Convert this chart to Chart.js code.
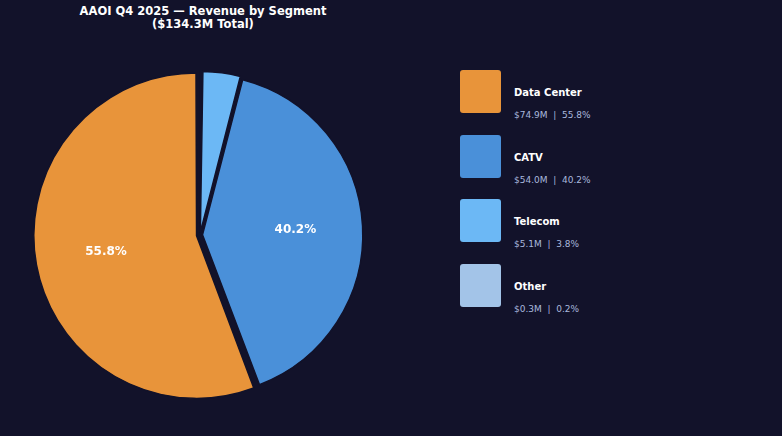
<!DOCTYPE html>
<html><head><meta charset="utf-8">
<script src="https://cdn.jsdelivr.net/npm/chart.js@4"></script>
<style>
html,body{margin:0;padding:0;background:#12122a;width:782px;height:436px;overflow:hidden;font-family:"DejaVu Sans",sans-serif;}
#title{position:absolute;left:0;width:406px;top:5px;text-align:center;color:#fff;font-weight:bold;font-size:11.5px;line-height:13px;}
#wrap{position:absolute;left:0;top:40px;width:400px;height:390px;}
#legend{position:absolute;left:460px;top:70px;}
.item{position:relative;height:64.5px;}
.box{position:absolute;left:0;top:0;width:41px;height:43px;border-radius:3px;}
.name{position:absolute;left:54px;top:17px;color:#fff;font-weight:bold;font-size:10px;white-space:nowrap;}
.sub{position:absolute;left:54px;top:40px;color:#a9b8dd;font-size:9px;white-space:pre;}
</style></head><body>
<div id="title">AAOI Q4 2025 — Revenue by Segment<br>($134.3M Total)</div>
<div id="wrap"><canvas id="c"></canvas></div>
<div id="legend"></div>
<script>
const segments=["Data Center","CATV","Telecom","Other"];
const revenue=[74.9,54.0,5.1,0.3];
const shares=[55.8,40.2,3.8,0.2];
const colors=["#E8943A","#4A90D9","#6CB8F5","#A3C4E8"];
const lg=document.getElementById('legend');
segments.forEach((s,i)=>{
  lg.innerHTML+=`<div class="item"><div class="box" style="background:${colors[i]}"></div><div class="name">${s}</div><div class="sub">$${revenue[i].toFixed(1)}M  |  ${shares[i].toFixed(1)}%</div></div>`;
});
const order=[3,2,1,0];
const labelPlugin={id:'lbl',afterDatasetsDraw(chart){
  const ctx=chart.ctx;const meta=chart.getDatasetMeta(0);
  meta.data.forEach((arc,j)=>{
    const i=order[j];if(shares[i]<10)return;
    const p=arc.getProps(['x','y','startAngle','endAngle','outerRadius']);
    const a=(p.startAngle+p.endAngle)/2,r=p.outerRadius*0.6;
    ctx.save();ctx.fillStyle='#fff';ctx.font='bold 12px "DejaVu Sans"';ctx.textAlign='center';ctx.textBaseline='middle';
    ctx.fillText(shares[i].toFixed(1)+'%',p.x+Math.cos(a)*r,p.y+Math.sin(a)*r);ctx.restore();
  });
}};
new Chart(document.getElementById('c'),{
  type:'pie',
  data:{labels:order.map(i=>segments[i]),datasets:[{data:order.map(i=>revenue[i]),backgroundColor:order.map(i=>colors[i]),borderColor:'#12122a',borderWidth:1.5,offset:[10,10,10,14]}]},
  options:{responsive:true,maintainAspectRatio:false,animation:false,rotation:0,
    layout:{padding:28},
    plugins:{legend:{display:false},tooltip:{enabled:false}}},
  plugins:[labelPlugin]
});
</script>
</body></html>
